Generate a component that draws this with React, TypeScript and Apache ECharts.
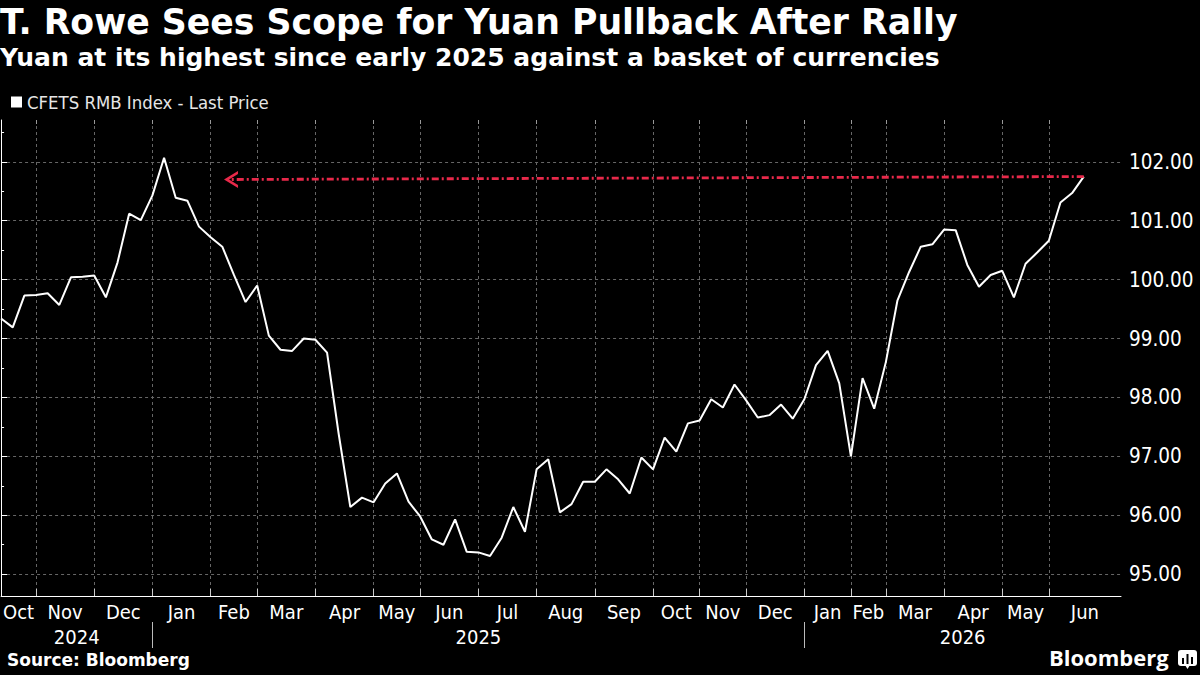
import React, { useEffect, useRef } from "react";
import * as echarts from "echarts";

// Weekly CFETS RMB Index values (index 0 = first week of Oct 2024)
const values: number[] = [
  99.34, 99.19, 99.73, 99.74, 99.77, 99.57, 100.04, 100.05, 100.07, 99.70,
  100.29, 101.12, 101.01, 101.43, 102.07, 101.39, 101.34, 100.90, 100.72, 100.56,
  100.08, 99.62, 99.90, 99.05, 98.81, 98.79, 99.00, 98.98, 98.76, 97.38,
  96.14, 96.30, 96.22, 96.54, 96.71, 96.23, 95.98, 95.59, 95.50, 95.93,
  95.38, 95.37, 95.31, 95.62, 96.14, 95.72, 96.78, 96.95, 96.05, 96.19,
  96.57, 96.57, 96.78, 96.61, 96.37, 96.98, 96.78, 97.32, 97.08, 97.56,
  97.61, 97.97, 97.83, 98.22, 97.95, 97.66, 97.70, 97.88, 97.64, 97.97,
  98.55, 98.79, 98.24, 97.00, 98.33, 97.81, 98.60, 99.65, 100.13, 100.56,
  100.60, 100.85, 100.84, 100.25, 99.88, 100.08, 100.15, 99.70, 100.27, 100.46,
  100.66, 101.31, 101.47, 101.75,
];

// Month names and the week index at which each month starts
const monthNames: string[] = [
  "Oct", "Nov", "Dec", "Jan", "Feb", "Mar", "Apr", "May", "Jun", "Jul", "Aug",
  "Sep", "Oct", "Nov", "Dec", "Jan", "Feb", "Mar", "Apr", "May", "Jun",
];
const monthStarts: number[] = [
  0, 3, 8, 13, 18, 22, 27, 32, 36, 41, 46, 51, 56, 60, 64, 69, 73, 76, 81, 86, 90,
];
const yearNames: string[] = ["2024", "2025", "2026"];
const yearStarts: number[] = [0, 13, 69];
const yTicks: number[] = [95, 96, 97, 98, 99, 100, 101, 102];
const yMinorTicks: number[] = [94.5, 95.5, 96.5, 97.5, 98.5, 99.5, 100.5, 101.5, 102.5];

const X_MAX = 96.2;
const Y_MIN = 94.63;
const Y_MAX = 102.71;
const seriesName = "CFETS RMB Index - Last Price";
const arrowFrom: [number, number] = [93, 101.75];
const arrowTo: [number, number] = [19.75, 101.7];

const FONT = "'DejaVu Sans Condensed', 'DejaVu Sans', sans-serif";
const BOLD_FONT = "'DejaVu Sans', sans-serif";

export default function App() {
  const ref = useRef<HTMLDivElement>(null);

  useEffect(() => {
    if (!ref.current) return;
    const chart = echarts.init(ref.current, undefined, { renderer: "svg" });

    const bounds = [...monthStarts, X_MAX];
    const monthCenters = monthStarts.map((s, i) => (s + bounds[i + 1]) / 2);
    const monthMap = new Map<string, string>();
    monthCenters.forEach((c, i) => monthMap.set(c.toFixed(2), monthNames[i]));

    const yBounds = [...yearStarts, X_MAX];
    const yearCenters = yearStarts.map((s, i) => (s + yBounds[i + 1]) / 2);
    const yearMap = new Map<string, string>();
    yearCenters.forEach((c, i) => yearMap.set(c.toFixed(2), yearNames[i]));

    const monthTickValues = monthStarts.slice(1);
    const yearTickValues = yearStarts.slice(1);

    const chevron = "path://M0,10 L5,0 L10,10 L8.2,10 L5,3.6 L1.8,10 Z";

    chart.setOption({
      animation: false,
      backgroundColor: "#000000",
      title: [
        {
          text: "T. Rowe Sees Scope for Yuan Pullback After Rally",
          left: 0,
          top: 4,
          padding: 0,
          textStyle: { color: "#ffffff", fontSize: 34.7, fontWeight: "bold", fontFamily: BOLD_FONT },
        },
        {
          text: "Yuan at its highest since early 2025 against a basket of currencies",
          left: 0,
          top: 45,
          padding: 0,
          textStyle: { color: "#ffffff", fontSize: 25, fontWeight: "bold", fontFamily: BOLD_FONT },
        },
        {
          text: "Source: Bloomberg",
          left: 7,
          top: 651,
          padding: 0,
          textStyle: { color: "#ffffff", fontSize: 17, fontWeight: "bold", fontFamily: BOLD_FONT },
        },
        {
          text: "Bloomberg",
          left: 1049,
          top: 646,
          padding: 0,
          textStyle: { color: "#ffffff", fontSize: 22, fontWeight: "bold", fontFamily: "'Open Sans', sans-serif" },
        },
      ],
      legend: {
        data: [seriesName],
        left: 11,
        top: 93,
        padding: 0,
        icon: "rect",
        itemWidth: 11,
        itemHeight: 11,
        itemGap: 4,
        textStyle: { color: "#e6e6e6", fontSize: 18.4, fontFamily: FONT },
      },
      grid: { left: 0, right: 79, top: 120, bottom: 79, containLabel: false },
      xAxis: [
        {
          type: "value",
          min: 0,
          max: X_MAX,
          position: "bottom",
          axisLine: { show: true, lineStyle: { color: "#ffffff", width: 1 } },
          axisTick: {
            show: true,
            inside: true,
            length: 7,
            customValues: monthTickValues,
            lineStyle: { color: "#cccccc" },
          },
          axisLabel: {
            show: true,
            customValues: monthCenters,
            margin: 6,
            color: "#ffffff",
            fontSize: 20,
            fontFamily: FONT,
            formatter: (v: number) => monthMap.get(v.toFixed(2)) ?? "",
          },
          splitLine: {
            show: true,
            lineStyle: { color: "#666666", type: [3, 3], width: 1 },
          },
        },
        {
          type: "value",
          min: 0,
          max: X_MAX,
          position: "bottom",
          offset: 26,
          axisLine: { show: false },
          axisTick: {
            show: true,
            inside: false,
            length: 26,
            customValues: yearTickValues,
            lineStyle: { color: "#bbbbbb" },
          },
          axisLabel: {
            show: true,
            customValues: yearCenters,
            margin: 5,
            color: "#ffffff",
            fontSize: 20,
            fontFamily: FONT,
            formatter: (v: number) => yearMap.get(v.toFixed(2)) ?? "",
          },
          splitLine: { show: false },
        },
        {
          type: "value",
          min: 0,
          max: X_MAX,
          position: "top",
          axisLine: { show: false },
          axisTick: {
            show: true,
            inside: true,
            length: 4,
            customValues: monthTickValues,
            lineStyle: { color: "#999999" },
          },
          axisLabel: { show: false },
          splitLine: { show: false },
        },
      ],
      yAxis: [
        {
          type: "value",
          position: "right",
          min: Y_MIN,
          max: Y_MAX,
          axisLine: { show: true, lineStyle: { color: "#ffffff", width: 1 } },
          axisTick: {
            show: true,
            inside: false,
            length: 6,
            customValues: yTicks,
            lineStyle: { color: "#ffffff" },
          },
          axisLabel: {
            show: true,
            customValues: yTicks,
            margin: 8,
            color: "#ffffff",
            fontSize: 20.5,
            fontFamily: FONT,
            formatter: (v: number) => v.toFixed(2),
          },
          splitLine: {
            show: true,
            lineStyle: { color: "#666666", type: [3, 3], width: 1 },
          },
        },
        {
          type: "value",
          position: "right",
          min: Y_MIN,
          max: Y_MAX,
          axisLine: { show: false },
          axisTick: {
            show: true,
            inside: false,
            length: 3,
            customValues: yMinorTicks,
            lineStyle: { color: "#ffffff" },
          },
          axisLabel: { show: false },
          splitLine: { show: false },
        },
      ],
      series: [
        {
          name: seriesName,
          type: "line",
          xAxisIndex: 0,
          yAxisIndex: 0,
          data: values.map((v, i) => [i, v]),
          showSymbol: false,
          symbol: "none",
          color: "#ffffff",
          lineStyle: { color: "#ffffff", width: 2 },
          markLine: {
            silent: true,
            symbol: ["none", chevron],
            symbolSize: [17, 14],
            label: { show: false },
            lineStyle: { color: "#e8294a", width: 2.8, type: [7, 3, 2, 3] },
            data: [[{ coord: arrowFrom }, { coord: arrowTo }]],
          },
        },
      ],
      graphic: [
        {
          type: "group",
          left: 1178,
          top: 650,
          children: [
            { type: "rect", shape: { x: 0, y: 0, width: 19, height: 16, r: 3 }, style: { fill: "#ffffff" } },
            { type: "polygon", shape: { points: [[7, 15], [12, 15], [9.5, 19]] }, style: { fill: "#ffffff" } },
            { type: "rect", shape: { x: 4, y: 8, width: 2, height: 6 }, style: { fill: "#000000" } },
            { type: "rect", shape: { x: 8.5, y: 4, width: 2, height: 10 }, style: { fill: "#000000" } },
            { type: "rect", shape: { x: 13, y: 7, width: 2, height: 7 }, style: { fill: "#000000" } },
          ],
        },
      ],
    });

    return () => chart.dispose();
  }, []);

  return (
    <div
      ref={ref}
      style={{ position: "fixed", left: 0, top: 0, width: 1200, height: 675, background: "#000" }}
    />
  );
}
